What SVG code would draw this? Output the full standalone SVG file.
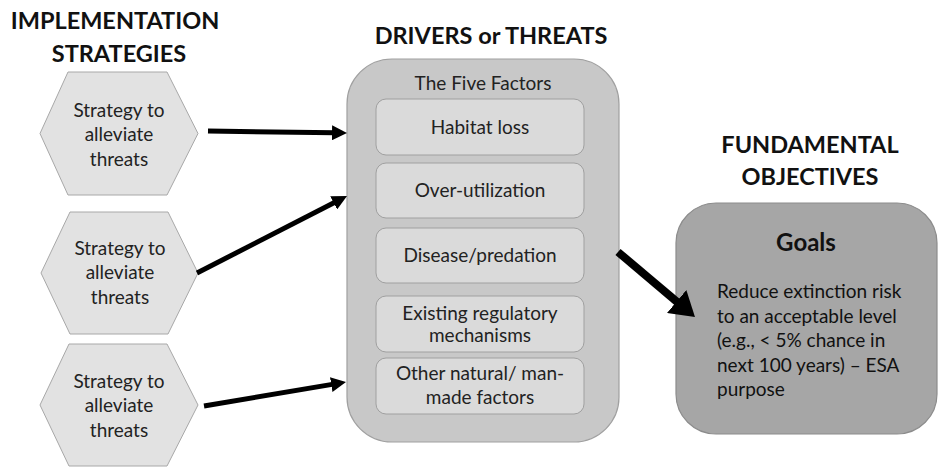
<svg xmlns="http://www.w3.org/2000/svg" width="938" height="468" viewBox="0 0 938 468">
<style>
.hd{font-family:Lato,"Liberation Sans",sans-serif;font-weight:bold;font-size:23.5px;fill:#111;text-anchor:middle}
.t{font-family:Lato,"Liberation Sans",sans-serif;font-size:19px;fill:#222;text-anchor:middle}
.tl{font-family:Lato,"Liberation Sans",sans-serif;font-size:19px;fill:#111}
.hex{fill:#e2e2e2;stroke:#a8a8a8;stroke-width:1}
.outer{fill:#c8c8c8;stroke:#a0a0a0;stroke-width:1.2}
.inner{fill:#dadada;stroke:#a0a0a0;stroke-width:1}
.goal{fill:#a6a6a6;stroke:#8c8c8c;stroke-width:1.2}
.arr{stroke:#000;stroke-width:5;fill:none;marker-end:url(#ah)}
.arrb{stroke:#000;stroke-width:8;fill:none;marker-end:url(#ahb)}
</style>
<defs>
<marker id="ah" viewBox="0 0 3 3" refX="0.5" refY="1.5" markerWidth="3" markerHeight="3" orient="auto" markerUnits="strokeWidth">
<path d="M0,0 L3,1.5 L0,3 z" fill="#000"/>
</marker>
<marker id="ahb" viewBox="0 0 3 3.75" refX="0.5" refY="1.875" markerWidth="3" markerHeight="3.75" orient="auto" markerUnits="strokeWidth">
<path d="M0,0 L3,1.875 L0,3.75 z" fill="#000"/>
</marker>
</defs>

<g id="headings">
<text class="hd" x="115" y="29">IMPLEMENTATION</text>
<text class="hd" x="119" y="62">STRATEGIES</text>
<text class="hd" x="491" y="44">DRIVERS or THREATS</text>
<text class="hd" x="810" y="153">FUNDAMENTAL</text>
<text class="hd" x="810" y="185">OBJECTIVES</text>
</g>

<g id="strategy1">
<polygon class="hex" points="40,133.5 68,72 167,72 198,133.5 167,195 68,195"/>
<text class="t" x="119" y="117">Strategy to</text>
<text class="t" x="119" y="141">alleviate</text>
<text class="t" x="119" y="166">threats</text>
</g>
<g id="strategy2">
<polygon class="hex" points="41,273 70,212 168,212 198,273 168,334 70,334"/>
<text class="t" x="120" y="255">Strategy to</text>
<text class="t" x="120" y="279">alleviate</text>
<text class="t" x="120" y="304">threats</text>
</g>
<g id="strategy3">
<polygon class="hex" points="40,405 69,344 167,344 198,405 167,466 69,466"/>
<text class="t" x="119" y="388">Strategy to</text>
<text class="t" x="119" y="412">alleviate</text>
<text class="t" x="119" y="437">threats</text>
</g>

<g id="five-factors">
<rect class="outer" x="347" y="59" width="272" height="383" rx="45" ry="45"/>
<text class="t" x="483" y="90">The Five Factors</text>
</g>
<g id="habitat-loss">
<rect class="inner" x="376" y="99" width="208" height="56" rx="10" ry="10"/>
<text class="t" x="480" y="134">Habitat loss</text>
</g>
<g id="over-utilization">
<rect class="inner" x="376" y="163" width="208" height="55" rx="10" ry="10"/>
<text class="t" x="480" y="197">Over-utilization</text>
</g>
<g id="disease-predation">
<rect class="inner" x="376" y="228" width="208" height="55" rx="10" ry="10"/>
<text class="t" x="480" y="262">Disease/predation</text>
</g>
<g id="regulatory">
<rect class="inner" x="376" y="296" width="208" height="56" rx="10" ry="10"/>
<text class="t" x="480" y="320">Existing regulatory</text>
<text class="t" x="480" y="342">mechanisms</text>
</g>
<g id="other-factors">
<rect class="inner" x="376" y="358" width="208" height="56" rx="10" ry="10"/>
<text class="t" x="480" y="380">Other natural/ man-</text>
<text class="t" x="480" y="404">made factors</text>
</g>

<g id="goals">
<rect class="goal" x="676" y="203" width="261" height="231" rx="40" ry="40"/>
<text class="hd" x="806" y="251" style="font-size:24px">Goals</text>
<text class="tl" x="717" y="298">Reduce extinction risk</text>
<text class="tl" x="717" y="323">to an acceptable level</text>
<text class="tl" x="717" y="347">(e.g., &lt; 5% chance in</text>
<text class="tl" x="717" y="372">next 100 years) – ESA</text>
<text class="tl" x="717" y="396">purpose</text>
</g>

<g id="connectors">
<path class="arr" d="M208,131 L334.5,132.8"/>
<path class="arr" d="M197,273 L335.9,201.7"/>
<path class="arr" d="M204,406 L333.7,384.1"/>
<path class="arrb" d="M618,252 L679.7,304.1"/>
</g>
</svg>
